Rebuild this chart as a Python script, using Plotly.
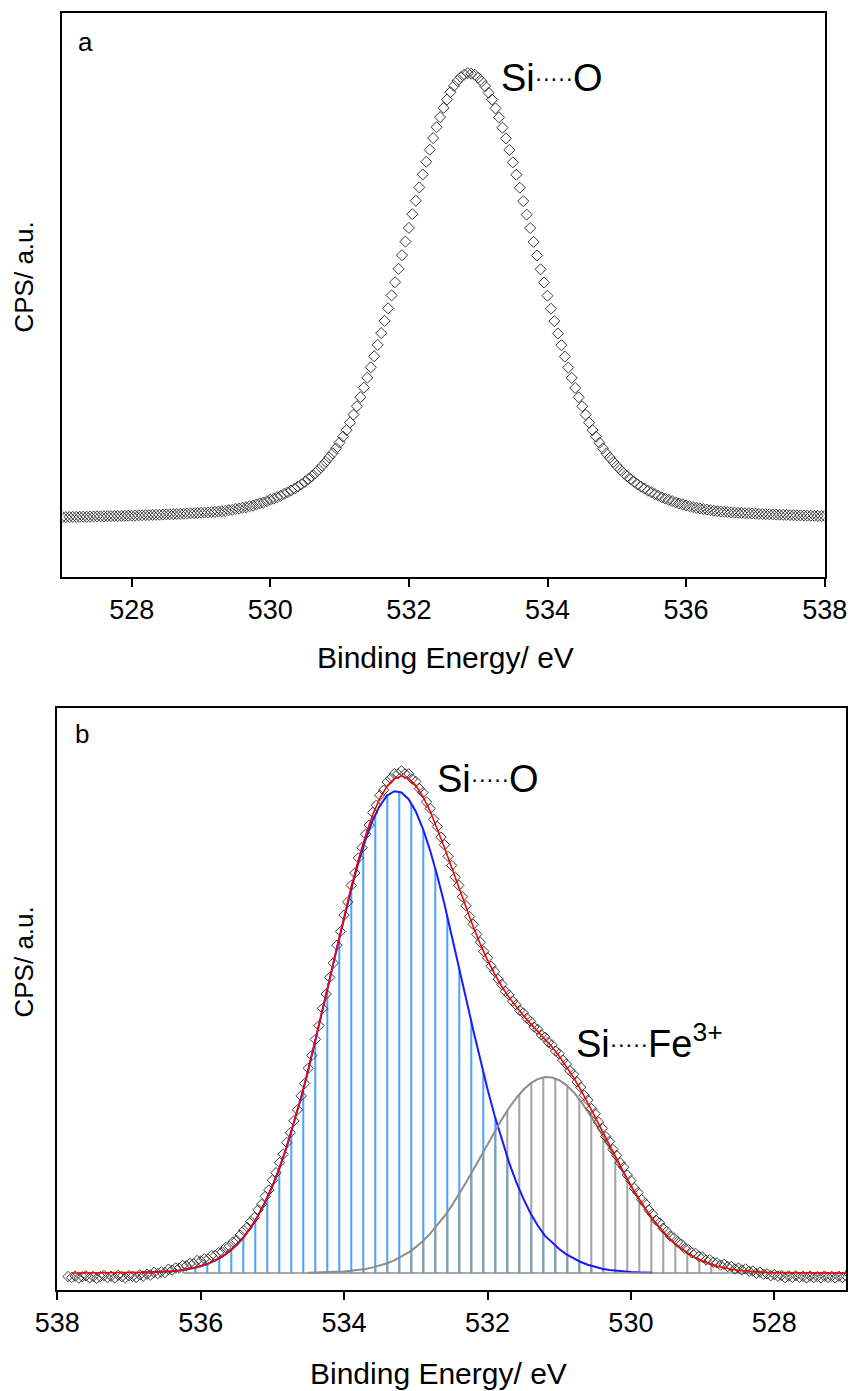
import numpy as np
import plotly.graph_objects as go

W, H = 851, 1391
FONT = "Liberation Sans, Arial, sans-serif"

# ---------------- Panel a : measured spectrum (Si...O) ----------------
a_energy_start, a_energy_step = 527.00, 0.05
a_counts = [
    59.6, 59.6, 59.7, 59.8, 59.8, 59.9, 60.0, 60.0, 60.1, 60.2, 60.3, 60.3, 60.4, 60.5, 60.6,
    60.7, 60.7, 60.8, 60.9, 61.0, 61.1, 61.2, 61.3, 61.4, 61.5, 61.6, 61.8, 61.9, 62.0, 62.1,
    62.3, 62.4, 62.5, 62.7, 62.8, 63.0, 63.2, 63.4, 63.5, 63.7, 63.9, 64.1, 64.3, 64.6, 64.8,
    65.1, 65.4, 65.7, 66.5, 66.8, 67.7, 68.1, 69.0, 69.5, 70.5, 71.1, 72.2, 73.4, 74.2, 75.5,
    77.0, 78.0, 79.6, 80.9, 82.8, 84.3, 86.1, 88.0, 90.1, 92.4, 94.9, 97.8, 100.4, 103.7, 106.9,
    111.0, 114.9, 119.2, 123.4, 128.5, 134.1, 140.1, 146.6, 154.1, 162.1, 170.5, 179.5, 189.0,
    199.0, 209.4, 220.4, 231.8, 243.6, 255.8, 268.4, 281.3, 294.5, 307.9, 321.5, 335.1, 348.8,
    362.5, 376.0, 389.3, 402.3, 414.9, 427.0, 438.6, 449.5, 459.6, 468.9, 477.2, 484.5, 490.8,
    495.8, 499.6, 502.2, 503.5,
    503.0, 502.0, 499.0, 495.2, 490.5, 484.0, 477.0, 468.3, 459.4, 449.0, 438.3, 426.8, 414.3,
    402.0, 389.0, 375.6, 362.1, 348.6, 334.8, 321.2, 307.4, 294.2, 281.0, 268.0, 255.6, 243.2,
    231.5, 220.1, 209.2, 198.8, 188.8, 179.4, 170.4, 162.0, 154.0, 146.6, 140.0, 134.0, 128.4,
    123.2, 119.0, 114.8, 110.8, 107.0, 103.5, 100.4, 97.5, 94.9, 92.3, 90.0, 88.1, 86.0, 84.4,
    82.6, 81.0, 79.4, 78.1, 76.8, 75.6, 74.3, 73.3, 72.3, 71.3, 70.4, 69.7, 68.9, 68.3, 67.6,
    67.1, 66.5, 66.0, 65.6, 65.2, 64.9, 64.6, 64.3, 64.1, 63.9, 63.7, 63.5, 63.4, 63.2, 63.0,
    62.8, 62.7, 62.5, 62.4, 62.3, 62.1, 62.0, 61.9, 61.8, 61.6, 61.5, 61.4, 61.3, 61.2, 61.1,
    61.0, 60.9, 60.8, 60.7, 60.7,
]
a_energy = np.round(a_energy_start + a_energy_step * np.arange(len(a_counts)), 2)
assert len(a_counts) == 221, len(a_counts)

# ---------------- Panel b : measured spectrum + fit ----------------
b_energy_start, b_energy_step = 537.85, -0.05
b_counts = [
    -3.5, -4.6, -3.1, -5.1, -3.7, -2.8, -4.8, -3.4, -5.3, -3.6, -2.5, -4.5, -3.2, -4.9, -2.3,
    -3.7, -4.8, -2.7, -3.4, -4.4, -1.9, -3.0, -1.1, -2.0, 0.6, -0.5, 1.2, 0.4, 3.7, 2.8, 5.1,
    4.9, 7.6, 7.2, 9.6, 9.2, 12.5, 12.0, 14.1, 13.8, 17.5, 17.4, 20.3, 21.1, 25.5, 26.9, 31.0,
    32.6, 38.0, 42.6, 45.7, 51.4, 55.6, 63.2, 68.7, 76.6, 83.0, 92.8, 100.3, 110.4, 118.8,
    130.4, 140.3, 152.2, 163.2, 177.1, 189.4, 204.7, 217.5, 233.6, 247.4, 264.6, 278.9, 295.6,
    310.0, 327.8, 341.4, 357.9, 371.0, 387.6, 400.0, 415.0, 425.4, 438.8, 447.9, 460.5, 467.7,
    477.7, 482.8, 491.1, 494.5, 499.3, 499.1, 502.1, 499.3, 499.2, 493.9, 491.5, 484.4, 480.4,
    471.0, 464.5, 453.7, 446.4, 435.9, 428.2, 416.6, 407.6, 395.8, 387.6, 376.2, 367.3, 356.4,
    348.7, 338.7, 330.8, 321.5, 315.2, 306.8, 301.5, 293.8, 288.6, 281.6, 278.0, 271.9, 268.0,
    262.5, 260.0, 254.7, 251.6, 246.0, 243.7, 238.2, 235.8, 230.7, 228.1, 221.9, 219.2, 212.9,
    208.9, 202.3, 198.6, 191.1, 185.8, 177.7, 172.8, 164.5, 159.3, 150.8, 144.8, 136.4, 131.5,
    123.4, 117.6, 110.2, 105.7, 97.9, 92.4, 84.8, 80.4, 73.4, 69.5, 63.0, 58.9, 52.8, 50.1,
    44.7, 41.6, 36.9, 35.2, 31.0, 29.0, 24.7, 23.6, 20.1, 19.7, 16.5, 15.8, 12.9, 13.4, 10.7,
    10.2, 7.9, 8.6, 6.4, 6.5, 4.1, 5.0, 3.0, 4.1, 1.8, 2.0, -0.3, 0.9, -1.2, -0.9, -2.7, -1.5,
    -3.2, -2.5, -4.7, -3.0, -4.4, -2.7, -4.3, -3.3, -4.9, -3.0, -4.5, -3.6, -4.8, -3.0, -4.3,
    -3.3, -4.9, -3.2, -4.6, -2.9,
]
b_energy = np.round(b_energy_start + b_energy_step * np.arange(len(b_counts)), 2)
assert len(b_counts) == 218, len(b_counts)

# Si...O component (blue)
blue_energy_start, fit_step = 536.8, -0.1
blue_fit = [
    0.4, 0.6, 0.8, 1.2, 1.8, 2.5, 3.6, 4.9, 6.8, 9.2, 12.4, 16.4, 21.6, 28.0, 36.0, 45.6, 57.2,
    71.0, 87.0, 105.4, 126.3, 149.6, 175.2, 202.8, 232.2, 262.7, 293.9, 325.0, 355.3, 384.1,
    410.5, 433.6, 452.9, 467.6, 477.4, 481.8, 480.6, 473.8, 461.5, 444.2, 422.4, 397.0, 368.7,
    338.3, 306.8, 274.8, 243.3, 212.9, 184.0, 157.2, 132.7, 110.6, 91.2, 74.3, 59.8, 47.5,
    37.3, 30.5, 24.0, 18.6, 14.7, 11.0, 8.2, 6.0, 4.3, 3.1, 2.2, 1.5, 1.1, 0.7, 0.5, 0.3,
]
blue_energy = np.round(blue_energy_start + fit_step * np.arange(len(blue_fit)), 2)
assert len(blue_fit) == 72

# Si...Fe3+ component (grey)
gray_energy_start = 534.5
gray_fit = [
    0.2, 0.4, 0.5, 0.8, 1.1, 1.6, 2.2, 3.0, 4.1, 5.6, 7.4, 9.7, 12.7, 16.3, 20.6, 25.9, 32.1,
    39.3, 47.5, 56.8, 67.1, 78.4, 90.4, 102.9, 115.9, 128.9, 141.7, 153.8, 165.0, 174.9, 183.2,
    189.6, 193.9, 195.9, 195.5, 192.8, 187.9, 180.9, 172.1, 161.8, 150.3, 137.9, 125.0, 112.0,
    99.1, 86.7, 74.9, 64.0, 54.0, 45.0, 37.0, 30.1, 24.2, 19.2, 15.1, 11.7, 9.0, 6.8,
]
gray_energy = np.round(gray_energy_start + fit_step * np.arange(len(gray_fit)), 2)
assert len(gray_fit) == 58

# cumulative fit (red)
sum_energy_start = 537.8
sum_fit = [
    0.0, 0.0, 0.0, 0.0, 0.0, 0.0, 0.1, 0.1, 0.2, 0.3, 0.4, 0.6, 0.8, 1.2, 1.8, 2.5, 3.6, 4.9,
    6.8, 9.2, 12.4, 16.4, 21.6, 28.0, 36.0, 45.6, 57.2, 71.0, 87.0, 105.5, 126.4, 149.7, 175.4,
    203.1, 232.5, 263.2, 294.7, 326.1, 356.9, 386.3, 413.5, 437.7, 458.4, 475.0, 487.1, 494.4,
    496.9, 494.4, 487.4, 476.3, 461.7, 444.5, 425.5, 405.4, 385.2, 365.2, 346.2, 328.8, 312.9,
    298.9, 286.5, 275.6, 266.1, 257.5, 249.4, 241.4, 233.2, 226.0, 216.8, 206.5, 195.6, 183.1,
    170.0, 156.2, 142.2, 128.1, 114.2, 100.7, 87.7, 75.6, 64.4, 54.3, 45.2, 37.2, 30.2, 24.3,
    19.3, 15.1, 11.7, 9.0, 6.8, 5.1, 3.8, 2.7, 2.0, 1.4, 1.0, 0.7, 0.5, 0.3, 0.2, 0.2, 0.1,
    0.1, 0.0, 0.0, 0.0, 0.0, 0.0,
]
sum_energy = np.round(sum_energy_start + fit_step * np.arange(len(sum_fit)), 2)
assert len(sum_fit) == 109

fit_baseline_energy = [536.25, 527.0]
fit_baseline_counts = [0.0, 0.0]

tick_vals = [528, 530, 532, 534, 536, 538]

# ---------------- figure ----------------
def px(x):
    return x / W

def py(y):
    return 1 - y / H

marker_style = dict(symbol="diamond-open", size=8.5, color="#3a3a3a", line=dict(width=1, color="#3a3a3a"))

fig = go.Figure()

fig.add_trace(go.Scatter(x=a_energy, y=a_counts, mode="markers", marker=marker_style,
                         xaxis="x", yaxis="y", showlegend=False))

# hatched component areas
fig.add_trace(go.Scatter(x=blue_energy, y=blue_fit, mode="lines", line=dict(width=0, color="rgba(0,0,0,0)"),
                         fill="tozeroy", fillcolor="rgba(0,0,0,0)",
                         fillpattern=dict(shape="|", size=12, solidity=0.15, fgcolor="#3399ff",
                                          bgcolor="rgba(0,0,0,0)"),
                         xaxis="x2", yaxis="y2", showlegend=False, hoverinfo="skip"))
fig.add_trace(go.Scatter(x=gray_energy, y=gray_fit, mode="lines", line=dict(width=0, color="rgba(0,0,0,0)"),
                         fill="tozeroy", fillcolor="rgba(0,0,0,0)",
                         fillpattern=dict(shape="|", size=12, solidity=0.15, fgcolor="#999999",
                                          bgcolor="rgba(0,0,0,0)"),
                         xaxis="x2", yaxis="y2", showlegend=False, hoverinfo="skip"))
fig.add_trace(go.Scatter(x=blue_energy, y=blue_fit, mode="lines", line=dict(width=2, color="#1a1aff"),
                         xaxis="x2", yaxis="y2", showlegend=False))
fig.add_trace(go.Scatter(x=fit_baseline_energy, y=fit_baseline_counts, mode="lines",
                         line=dict(width=1.5, color="#8c8c8c"),
                         xaxis="x2", yaxis="y2", showlegend=False))
fig.add_trace(go.Scatter(x=gray_energy, y=gray_fit, mode="lines", line=dict(width=2, color="#8c8c8c"),
                         xaxis="x2", yaxis="y2", showlegend=False))
fig.add_trace(go.Scatter(x=b_energy, y=b_counts, mode="markers", marker=dict(marker_style, size=8),
                         xaxis="x2", yaxis="y2", showlegend=False))
fig.add_trace(go.Scatter(x=sum_energy, y=sum_fit, mode="lines", line=dict(width=1.6, color="#ff0000"),
                         xaxis="x2", yaxis="y2", showlegend=False))

axis_common = dict(showline=True, mirror=True, linecolor="black", linewidth=2,
                   showgrid=False, zeroline=False, automargin=False)
xaxis_common = dict(axis_common, ticks="outside", ticklen=8, tickwidth=2, tickcolor="black",
                    tickvals=tick_vals, tickfont=dict(family=FONT, size=27, color="black"))
yaxis_common = dict(axis_common, ticks="", showticklabels=False)

fig.update_layout(
    template="none",
    width=W, height=H,
    autosize=False,
    margin=dict(l=0, r=0, t=0, b=0, pad=0, autoexpand=False),
    paper_bgcolor="white", plot_bgcolor="white",
    font=dict(family=FONT, color="black"),
    xaxis=dict(xaxis_common, domain=[px(62.4), px(824.7)], range=[527, 538], anchor="y"),
    yaxis=dict(yaxis_common, domain=[py(576.7), py(13.3)], range=[0, 563.4], anchor="x"),
    xaxis2=dict(xaxis_common, domain=[px(57.3), px(846)], range=[538, 527], anchor="y2"),
    yaxis2=dict(yaxis_common, domain=[py(1290), py(708)], range=[-17, 565], anchor="x2"),
)

dots = '<span style="font-size:23px;baseline-shift:5px">·····</span>'
ann = [
    dict(text="a", x=px(76), y=py(42), xanchor="left", yanchor="middle", font=dict(size=26)),
    dict(text="b", x=px(73), y=py(734), xanchor="left", yanchor="middle", font=dict(size=26)),
    dict(text="Si" + dots + "O", x=px(499), y=py(77.5), xanchor="left", yanchor="middle",
         font=dict(size=38)),
    dict(text="Si" + dots + "O", x=px(435), y=py(778.5), xanchor="left", yanchor="middle",
         font=dict(size=38)),
    dict(text="Si" + dots + "Fe<sup>3+</sup>", x=px(574), y=py(1041), xanchor="left",
         yanchor="middle", font=dict(size=38)),
    dict(text="Binding Energy/ eV", x=px(445), y=py(657), xanchor="center", yanchor="middle",
         font=dict(size=30)),
    dict(text="Binding Energy/ eV", x=px(438.5), y=py(1373.5), xanchor="center", yanchor="middle",
         font=dict(size=30)),
    dict(text="CPS/ a.u.", x=px(23.5), y=py(277), xanchor="center", yanchor="middle",
         textangle=-90, font=dict(size=26)),
    dict(text="CPS/ a.u.", x=px(23.5), y=py(962), xanchor="center", yanchor="middle",
         textangle=-90, font=dict(size=26)),
]
for a in ann:
    a.update(xref="paper", yref="paper", showarrow=False)
    a["font"] = dict(a["font"], family=FONT, color="black")
fig.update_layout(annotations=ann)

fig.write_html(
    "out.html",
    config={"displayModeBar": False, "responsive": False},
    post_script="document.body.style.margin='0px';document.body.style.padding='0px';"
                "document.body.style.overflow='hidden';",
)
